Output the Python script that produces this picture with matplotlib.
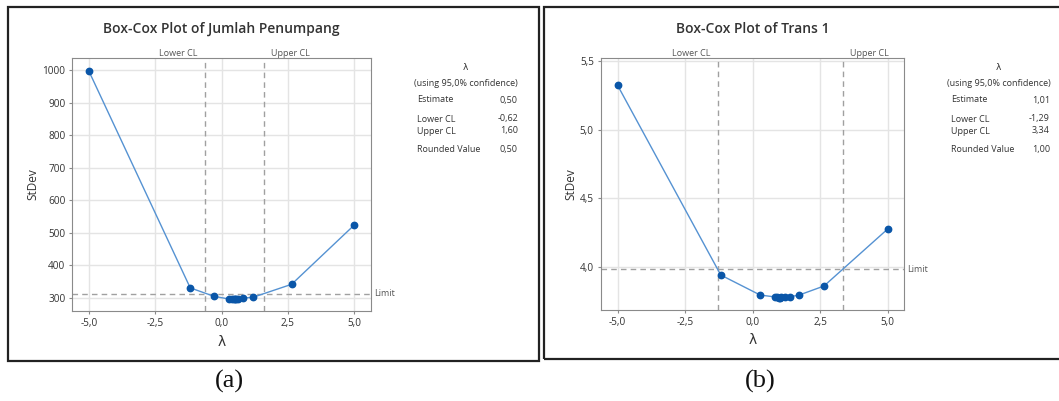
import matplotlib.pyplot as plt
from matplotlib.patches import Rectangle
from matplotlib.ticker import FuncFormatter

W, H = 1059, 401

# (a) Jumlah Penumpang
lam_a = [-5.0, -1.18, -0.28, 0.27, 0.40, 0.46, 0.50, 0.55, 0.61, 0.82, 1.18, 2.64, 5.0]
sd_a = [997, 331, 305, 297, 296, 296, 296, 296, 297, 300, 302, 342, 524]
ci_a = [-0.62, 1.60]
limit_a = 313
info_a = ["0,50", "-0,62", "1,60", "0,50"]

# (b) Trans 1
lam_b = [-5.0, -1.18, 0.28, 0.84, 0.91, 0.97, 1.01, 1.05, 1.19, 1.39, 1.72, 2.64, 5.0]
sd_b = [5.323, 3.939, 3.793, 3.779, 3.776, 3.775, 3.775, 3.776, 3.778, 3.781, 3.793, 3.859, 4.275]
ci_b = [-1.29, 3.34]
limit_b = 3.98
info_b = ["1,01", "-1,29", "3,34", "1,00"]

xticks = [-5.0, -2.5, 0.0, 2.5, 5.0]
yticks_a = [300, 400, 500, 600, 700, 800, 900, 1000]
yticks_b = [4.0, 4.5, 5.0, 5.5]

plt.rcParams['font.family'] = ['Open Sans', 'DejaVu Sans']
fig = plt.figure(figsize=(W / 100, H / 100), dpi=100)


def px(x, y):
    return x / W, 1 - y / H


def comma(fmt):
    return FuncFormatter(lambda v, p: format(v, fmt).replace('.', ','))


def panel(box, ax_px, lam, sd, ci, limit, ylim, yticks, yfmt, title, info, tx, letter):
    # outer black frame
    x0, y0, x1, y1 = box
    fig.patches.append(Rectangle(px(x0, y1), (x1 - x0) / W, (y1 - y0) / H,
                                 transform=fig.transFigure, fill=False,
                                 edgecolor='#222222', linewidth=1.6))
    l, t, r, b = ax_px
    ax = fig.add_axes([l / W, 1 - b / H, (r - l) / W, (b - t) / H])
    ax.set_xlim(-5.62, 5.62)
    ax.set_ylim(*ylim)
    ax.set_xticks(xticks)
    ax.set_yticks(yticks)
    ax.xaxis.set_major_formatter(comma('.1f'))
    ax.yaxis.set_major_formatter(comma(yfmt))
    ax.grid(True, color='#e4e4e4', linewidth=1)
    ax.set_axisbelow(True)
    for s in ax.spines.values():
        s.set_color('#8a8a8a')
    ax.tick_params(length=2, color='#8a8a8a', labelsize=7.2, labelcolor='#333333', pad=3)

    ax.plot(lam, sd, color='#5592d2', linewidth=1, zorder=3)
    ax.plot(lam, sd, 'o', color='#0a56a8', markersize=4.6, zorder=4)

    for c in ci:
        ax.axvline(c, color='#a0a0a0', linestyle='--', linewidth=1, dashes=(4, 3))
    ax.axhline(limit, color='#a0a0a0', linestyle='--', linewidth=1, dashes=(4, 3))
    ax.text(1.01, limit, 'Limit', transform=ax.get_yaxis_transform(),
            fontsize=6.5, color='#555555', va='center', ha='left')
    ax.text(ci[0] - 0.27, 1.0, 'Lower CL', transform=ax.get_xaxis_transform(),
            fontsize=6.5, color='#555555', ha='right', va='bottom')
    ax.text(ci[1] + 0.27, 1.0, 'Upper CL', transform=ax.get_xaxis_transform(),
            fontsize=6.5, color='#555555', ha='left', va='bottom')

    ax.set_title(title, fontsize=10, fontweight='semibold', color='#333333', pad=18)
    ax.set_xlabel('λ', fontsize=10, color='#333333', labelpad=4,
                  family=['DejaVu Sans'])
    ax.set_ylabel('StDev', fontsize=8.5, color='#333333', labelpad=2)

    # side table
    tl, tr = tx
    fig.text(*px((tl + tr) / 2, 68), 'λ', fontsize=6.5, color='#333333',
             ha='center', va='center', family=['DejaVu Sans'])
    fig.text(*px((tl + tr) / 2, 84), '(using 95,0% confidence)', fontsize=6.5,
             color='#333333', ha='center', va='center')
    labels = ['Estimate', 'Lower CL', 'Upper CL', 'Rounded Value']
    rows = [100, 119, 131, 149]
    for lab, val, yy in zip(labels, info, rows):
        fig.text(*px(tl + 4, yy), lab, fontsize=6.5, color='#333333', va='center')
        fig.text(*px(tr, yy), val, fontsize=6.5, color='#333333', va='center', ha='right')

    fig.text(*px((l + r) / 2 + 8, 381), letter, fontsize=19, ha='center', va='center',
             family=['Liberation Serif', 'DejaVu Serif'], color='#111111')


panel((8, 7, 539, 361), (72.4, 57.7, 370.7, 311), lam_a, sd_a, ci_a, limit_a,
      (260, 1038), yticks_a, '.0f', 'Box-Cox Plot of Jumlah Penumpang', info_a,
      (413, 518), '(a)')
panel((544, 7, 1075, 359), (600.8, 57.7, 904.5, 310), lam_b, sd_b, ci_b, limit_b,
      (3.684, 5.524), yticks_b, '.1f', 'Box-Cox Plot of Trans 1', info_b,
      (947, 1050), '(b)')

fig.savefig('out.png', dpi=100)
